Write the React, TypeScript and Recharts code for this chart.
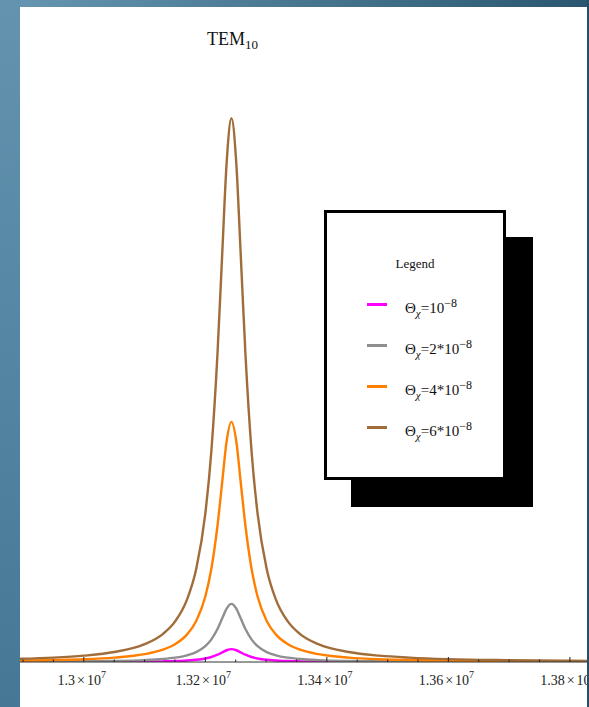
import React from "react";
import { LineChart, Line, XAxis, YAxis, Legend } from "recharts";

// frequency samples (Hz), denser around the resonance
const freq = [
  12895000, 12950000, 13000000, 13050000, 13100000, 13130000, 13150000, 13170000,
  13185000, 13200000, 13210000, 13220000, 13228000, 13235000, 13243000, 13251000,
  13258000, 13266000, 13276000, 13286000, 13301000, 13316000, 13336000, 13356000,
  13386000, 13436000, 13486000, 13536000, 13600000, 13700000, 13800000, 13866000,
];

// response for each Theta_x value
const theta1 = [
  0.005, 0.007, 0.01, 0.016, 0.028, 0.044, 0.063, 0.098, 0.145, 0.232, 0.331, 0.482,
  0.642, 0.778, 0.85, 0.778, 0.642, 0.482, 0.331, 0.232, 0.145, 0.098, 0.063, 0.044,
  0.028, 0.016, 0.01, 0.007, 0.005, 0.003, 0.002, 0.0015,
];
const theta2 = [
  0.022, 0.031, 0.045, 0.07, 0.126, 0.198, 0.286, 0.444, 0.658, 1.05, 1.5, 2.18, 2.91,
  3.53, 3.85, 3.53, 2.91, 2.18, 1.5, 1.05, 0.658, 0.444, 0.286, 0.198, 0.126, 0.07,
  0.045, 0.031, 0.021, 0.013, 0.008, 0.007,
];
const theta4 = [
  0.09, 0.13, 0.18, 0.29, 0.52, 0.82, 1.18, 1.83, 2.72, 4.34, 6.19, 9.02, 12.0, 14.6,
  15.9, 14.6, 12.0, 9.02, 6.19, 4.34, 2.72, 1.83, 1.18, 0.82, 0.52, 0.29, 0.18, 0.13,
  0.09, 0.05, 0.035, 0.03,
];
const theta6 = [
  0.21, 0.29, 0.42, 0.66, 1.18, 1.85, 2.67, 4.15, 6.16, 9.82, 14.0, 20.4, 27.2, 33.0,
  36.0, 33.0, 27.2, 20.4, 14.0, 9.82, 6.16, 4.15, 2.67, 1.85, 1.18, 0.66, 0.42, 0.29,
  0.19, 0.12, 0.08, 0.06,
];

const seriesKeys = ["t1", "t2", "t4", "t6"];
const seriesColors = ["#ff00ff", "#8f8f8f", "#ff8000", "#a06d3a"];
const legendCoefs = ["", "2*", "4*", "6*"];

const tickValues = [
  12900000, 12950000, 13000000, 13050000, 13100000, 13150000, 13200000, 13250000,
  13300000, 13350000, 13400000, 13450000, 13500000, 13550000, 13600000, 13650000,
  13700000, 13750000, 13800000, 13850000,
];
const majorTicks = [13000000, 13200000, 13400000, 13600000, 13800000];
const majorLabels = ["1.3", "1.32", "1.34", "1.36", "1.38"];

const data = freq.map((f, i) => ({
  f,
  t1: theta1[i],
  t2: theta2[i],
  t4: theta4[i],
  t6: theta6[i],
}));

const SERIF = "'Liberation Serif', 'Times New Roman', serif";

const FreqTick = ({ x, y, payload }: any) => {
  const idx = majorTicks.indexOf(payload.value);
  const major = idx >= 0;
  return (
    <g>
      <line x1={x} x2={x} y1={y} y2={y - (major ? 5 : 2.5)} stroke="#222" strokeWidth={1} />
      {major && (
        <text x={x - 2} y={y + 23} textAnchor="middle" fontFamily={SERIF} fontSize={14} fill="#222">
          <tspan>{majorLabels[idx]}</tspan>
          <tspan dx={2}>×</tspan>
          <tspan dx={2}>10</tspan>
          <tspan dy={-7} fontSize={10}>7</tspan>
        </text>
      )}
    </g>
  );
};

const LegendBox = ({ payload }: any) => {
  const items = payload || [];
  return (
    <div
      style={{
        position: "relative",
        width: 182,
        height: 270,
        boxSizing: "border-box",
        border: "3px solid #000",
        background: "#fff",
        boxShadow: "27px 27px 0 0 #000",
        fontFamily: SERIF,
        color: "#111",
      }}
    >
      <div style={{ position: "absolute", left: 0, width: 176, top: 43, textAlign: "center", fontSize: 13 }}>
        Legend
      </div>
      {items.map((entry: any, i: number) => (
        <div key={`leg-${i}`} style={{ position: "absolute", left: 40, top: 80 + i * 41, height: 20 }}>
          <div
            style={{
              position: "absolute",
              left: 0,
              top: 10,
              width: 20,
              height: 2.5,
              background: seriesColors[i],
            }}
          />
          <div
            style={{ position: "absolute", left: 38, top: 0, whiteSpace: "nowrap", fontSize: 15, lineHeight: "20px" }}
          >
            Θ<sub style={{ fontSize: 11, fontStyle: "italic" }}>χ</sub>={legendCoefs[i]}10
            <sup style={{ fontSize: 12 }}>−8</sup>
          </div>
        </div>
      ))}
    </div>
  );
};

export default function App() {
  return (
    <div
      style={{
        position: "fixed",
        left: 0,
        top: 0,
        width: 589,
        height: 707,
        overflow: "hidden",
        background: "linear-gradient(to right, #6797b3, #2a5670)",
      }}
    >
      <div
        style={{
          position: "absolute",
          left: 0,
          top: 0,
          width: 20,
          height: 707,
          background: "linear-gradient(to bottom, #6393af, #467896)",
        }}
      />
      <div style={{ position: "absolute", left: 20, top: 7, width: 567, height: 700, background: "#fff" }} />
      <div style={{ position: "absolute", left: 0, top: 0 }}>
        <LineChart width={620} height={707} data={data} margin={{ top: 8, right: 10, left: 20, bottom: 0 }}>
          <XAxis
            type="number"
            dataKey="f"
            domain={[12895000, 13866000]}
            allowDataOverflow
            ticks={tickValues}
            interval={0}
            tick={<FreqTick />}
            tickLine={false}
            tickSize={0}
            tickMargin={0}
            height={45}
            axisLine={{ stroke: "#333", strokeWidth: 1 }}
          />
          <YAxis hide domain={[0, 43.3]} allowDataOverflow />
          <Legend
            content={<LegendBox />}
            layout="vertical"
            verticalAlign="middle"
            align="center"
            wrapperStyle={{ left: 324, top: 210, width: 182, height: 270 }}
          />
          {seriesKeys.map((k, i) => (
            <Line
              key={k}
              type="monotone"
              dataKey={k}
              name={`Θχ=${legendCoefs[i]}10^-8`}
              stroke={seriesColors[i]}
              strokeWidth={2.4}
              dot={false}
              isAnimationActive={false}
            />
          ))}
        </LineChart>
      </div>
      <svg style={{ position: "absolute", left: 0, top: 0 }} width={589} height={60}>
        <text x={207} y={45} fontFamily={SERIF} fontSize={18} fill="#111">
          TEM
          <tspan dy={4} fontSize={13}>
            10
          </tspan>
        </text>
      </svg>
      <div style={{ position: "absolute", left: 587, top: 0, width: 2, height: 707, background: "#284e66" }} />
    </div>
  );
}
